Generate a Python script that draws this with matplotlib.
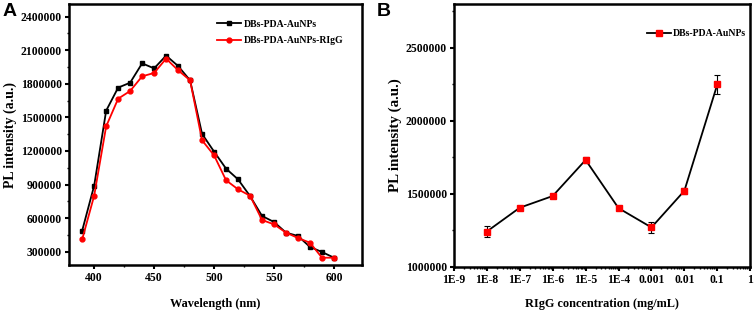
import numpy as np
import matplotlib.pyplot as plt
from matplotlib.lines import Line2D
from matplotlib.ticker import (AutoMinorLocator, LogLocator, FixedLocator,
                               NullFormatter, FuncFormatter)

plt.rcParams['font.family'] = ['Liberation Serif', 'DejaVu Serif']
plt.rcParams['font.weight'] = 'bold'

# Panel A: PL spectra
WAVELENGTH = [390, 400, 410, 420, 430, 440, 450, 460, 470, 480, 490,
              500, 510, 520, 530, 540, 550, 560, 570, 580, 590, 600]
PL_AUNP = [488000, 890000, 1560000, 1766000, 1810000, 1983000, 1938000,
           2052000, 1959000, 1831000, 1352000, 1194000, 1042000, 946000,
           797000, 619000, 565000, 470000, 440000, 342000, 297000, 246000]
PL_AUNP_RIGG = [410000, 800000, 1420000, 1667000, 1736000, 1867000, 1897000,
                2025000, 1921000, 1831000, 1295000, 1161000, 938000, 857000,
                800000, 583000, 544000, 470000, 422000, 380000, 246000, 246000]

# Panel B: concentration series
CONC = [1e-8, 1e-7, 1e-6, 1e-5, 1e-4, 1e-3, 1e-2, 1e-1]
PL_CONC = [1242000, 1405000, 1485000, 1732000, 1402000, 1270000, 1521000, 2249000]
PL_ERR = [40000, 10000, 12000, 18000, 12000, 35000, 20000, 65000]
CONC_TICKLABELS = ['1E-9', '1E-8', '1E-7', '1E-6', '1E-5', '1E-4',
                   '0.001', '0.01', '0.1', '1']

plain = FuncFormatter(lambda v, p: f'{int(round(v))}')

fig = plt.figure(figsize=(7.54, 3.11), dpi=100)
axA = fig.add_axes([0.0915, 0.148, 0.388, 0.839])
axB = fig.add_axes([0.602, 0.142, 0.393, 0.845])

for ax in (axA, axB):
    for s in ax.spines.values():
        s.set_linewidth(1.8)
    ax.tick_params(which='major', direction='out', length=3, width=1.5,
                   labelsize=8.4, top=False, right=False, pad=2)
    ax.tick_params(which='minor', direction='out', length=1.5, width=1,
                   top=False, right=False)

# --- A ---
axA.plot(WAVELENGTH, PL_AUNP, '-s', color='black', lw=1.3, ms=3.5,
         label='DBs-PDA-AuNPs')
axA.plot(WAVELENGTH, PL_AUNP_RIGG, '-o', color='#ff0000', lw=1.3, ms=3.5,
         label='DBs-PDA-AuNPs-RIgG')
axA.set_xlim(379, 623)
axA.set_ylim(181000, 2513000)
axA.set_xticks([400, 450, 500, 550, 600])
axA.set_yticks(np.arange(300000, 2400001, 300000))
axA.yaxis.set_major_formatter(plain)
axA.xaxis.set_minor_locator(AutoMinorLocator(2))
axA.yaxis.set_minor_locator(AutoMinorLocator(2))
axA.set_xlabel('Wavelength (nm)', fontsize=8.8, fontweight='bold', labelpad=10)
axA.set_ylabel('PL intensity (a.u.)', fontsize=10, fontweight='bold', labelpad=3)
axA.legend(loc='upper right', frameon=False, fontsize=7, handlelength=2.5,
           handletextpad=0.2, borderaxespad=0.0, labelspacing=0.75,
           bbox_to_anchor=(0.95, 0.955))

# --- B ---
axB.errorbar(CONC, PL_CONC, yerr=PL_ERR, fmt='-s', color='black', lw=1.3,
             mfc='#ff0000', mec='#ff0000', ms=4, ecolor='black',
             elinewidth=0.8, capsize=2, capthick=0.8)
axB.set_xscale('log')
axB.set_xlim(1e-9, 1)
axB.set_ylim(1000000, 2800000)
axB.xaxis.set_major_locator(FixedLocator([10.0 ** k for k in range(-9, 1)]))
axB.set_xticklabels(CONC_TICKLABELS)
axB.xaxis.set_minor_locator(LogLocator(base=10, subs=np.arange(2, 10), numticks=20))
axB.xaxis.set_minor_formatter(NullFormatter())
axB.set_yticks([1000000, 1500000, 2000000, 2500000])
axB.yaxis.set_major_formatter(plain)
axB.yaxis.set_minor_locator(AutoMinorLocator(2))
axB.set_xlabel('RIgG concentration (mg/mL)', fontsize=8.8, fontweight='bold', labelpad=9)
axB.set_ylabel('PL intensity (a.u.)', fontsize=10.8, fontweight='bold', labelpad=3)
handleB = Line2D([], [], color='black', lw=1.3, marker='s', ms=4,
                 mfc='#ff0000', mec='#ff0000')
axB.legend([handleB], ['DBs-PDA-AuNPs'], loc='upper right', frameon=False,
           fontsize=7, handlelength=2.5, handletextpad=0.2, borderaxespad=0.0,
           bbox_to_anchor=(1.0, 0.92))

fig.text(0.003, 0.99, 'A', fontsize=14, fontweight='bold', va='top',
         family='Liberation Sans')
fig.text(0.500, 0.99, 'B', fontsize=14, fontweight='bold', va='top',
         family='Liberation Sans')

fig.savefig('out.png', dpi=100)
